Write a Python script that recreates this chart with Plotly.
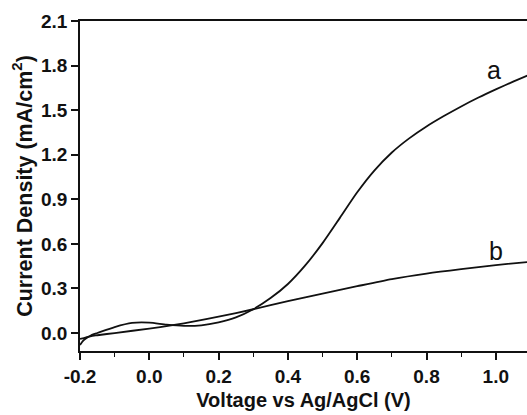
import plotly.graph_objects as go

voltage_a = [-0.2, -0.19, -0.18, -0.17, -0.16, -0.15, -0.1, -0.05, 0.0, 0.05, 0.1, 0.15, 0.2, 0.25, 0.3,
             0.35, 0.4, 0.45, 0.5, 0.55, 0.6, 0.65, 0.7, 0.75, 0.8, 0.85, 0.9, 0.95, 1.0, 1.05, 1.1]
current_a = [-0.08, -0.05, -0.032, -0.018, -0.008, 0.0, 0.04, 0.068, 0.07, 0.056, 0.048, 0.052, 0.072, 0.105, 0.16,
             0.235, 0.33, 0.455, 0.605, 0.775, 0.947, 1.095, 1.215, 1.31, 1.39, 1.46, 1.525, 1.585, 1.64, 1.692, 1.742]

voltage_b = [-0.2, -0.17, -0.15, -0.1, 0.0, 0.1, 0.2, 0.3, 0.4, 0.5, 0.6, 0.7, 0.8, 0.9, 1.0, 1.1]
current_b = [-0.04, -0.022, -0.015, 0.0, 0.03, 0.065, 0.11, 0.16, 0.215, 0.265, 0.315, 0.363, 0.40, 0.43, 0.457, 0.48]

x_ticks = [-0.2, 0.0, 0.2, 0.4, 0.6, 0.8, 1.0]
x_labels = ["-0.2", "0.0", "0.2", "0.4", "0.6", "0.8", "1.0"]
y_ticks = [0.0, 0.3, 0.6, 0.9, 1.2, 1.5, 1.8, 2.1]
y_labels = ["0.0", "0.3", "0.6", "0.9", "1.2", "1.5", "1.8", "2.1"]

fig = go.Figure()
fig.add_trace(go.Scatter(x=voltage_a, y=current_a, mode="lines",
                         line=dict(color="#111", width=1.8, shape="spline", smoothing=0.7)))
fig.add_trace(go.Scatter(x=voltage_b, y=current_b, mode="lines",
                         line=dict(color="#111", width=1.8, shape="spline", smoothing=0.7)))

fig.add_annotation(x=0.994, y=1.77, text="a", showarrow=False,
                   font=dict(family="Liberation Sans, Arial", size=25, color="#111"))
fig.add_annotation(x=1.0, y=0.552, text="b", showarrow=False,
                   font=dict(family="Liberation Sans, Arial", size=25, color="#111"))

tickfont = dict(family="Liberation Sans, Arial", size=19, color="#111", weight="bold")
xtitlefont = dict(family="Liberation Sans, Arial", size=20, color="#111", weight="bold")
ytitlefont = dict(family="Liberation Sans, Arial", size=21.5, color="#111", weight="bold")
fig.update_layout(
    width=527, height=415,
    margin=dict(l=80, r=0, t=21, b=64),
    paper_bgcolor="white", plot_bgcolor="white",
    showlegend=False,
    xaxis=dict(range=[-0.2, 1.09], tickvals=x_ticks, ticktext=x_labels, automargin=False,
               showline=True, linecolor="#111", linewidth=1.5, mirror=True,
               ticks="outside", ticklen=7, tickwidth=1.5, tickcolor="#111",
               minor=dict(dtick=0.1, tick0=-0.2, ticks="outside", ticklen=4, tickwidth=1.2, tickcolor="#111"),
               showgrid=False, zeroline=False, tickfont=tickfont,
               title=dict(text="Voltage vs Ag/AgCl (V)", font=xtitlefont, standoff=7)),
    yaxis=dict(range=[-0.121, 2.1], tickvals=y_ticks, ticktext=y_labels, automargin=False,
               showline=True, linecolor="#111", linewidth=1.5,
               ticks="outside", ticklen=7, tickwidth=1.5, tickcolor="#111",
               showgrid=False, zeroline=False, tickfont=tickfont,
               title=dict(text="Current Density (mA/cm<sup>2</sup>)", font=ytitlefont, standoff=3)),
)

fig.write_html("out.html", config={"displayModeBar": False},
               post_script="document.body.style.margin='0';document.body.style.overflow='hidden';")
